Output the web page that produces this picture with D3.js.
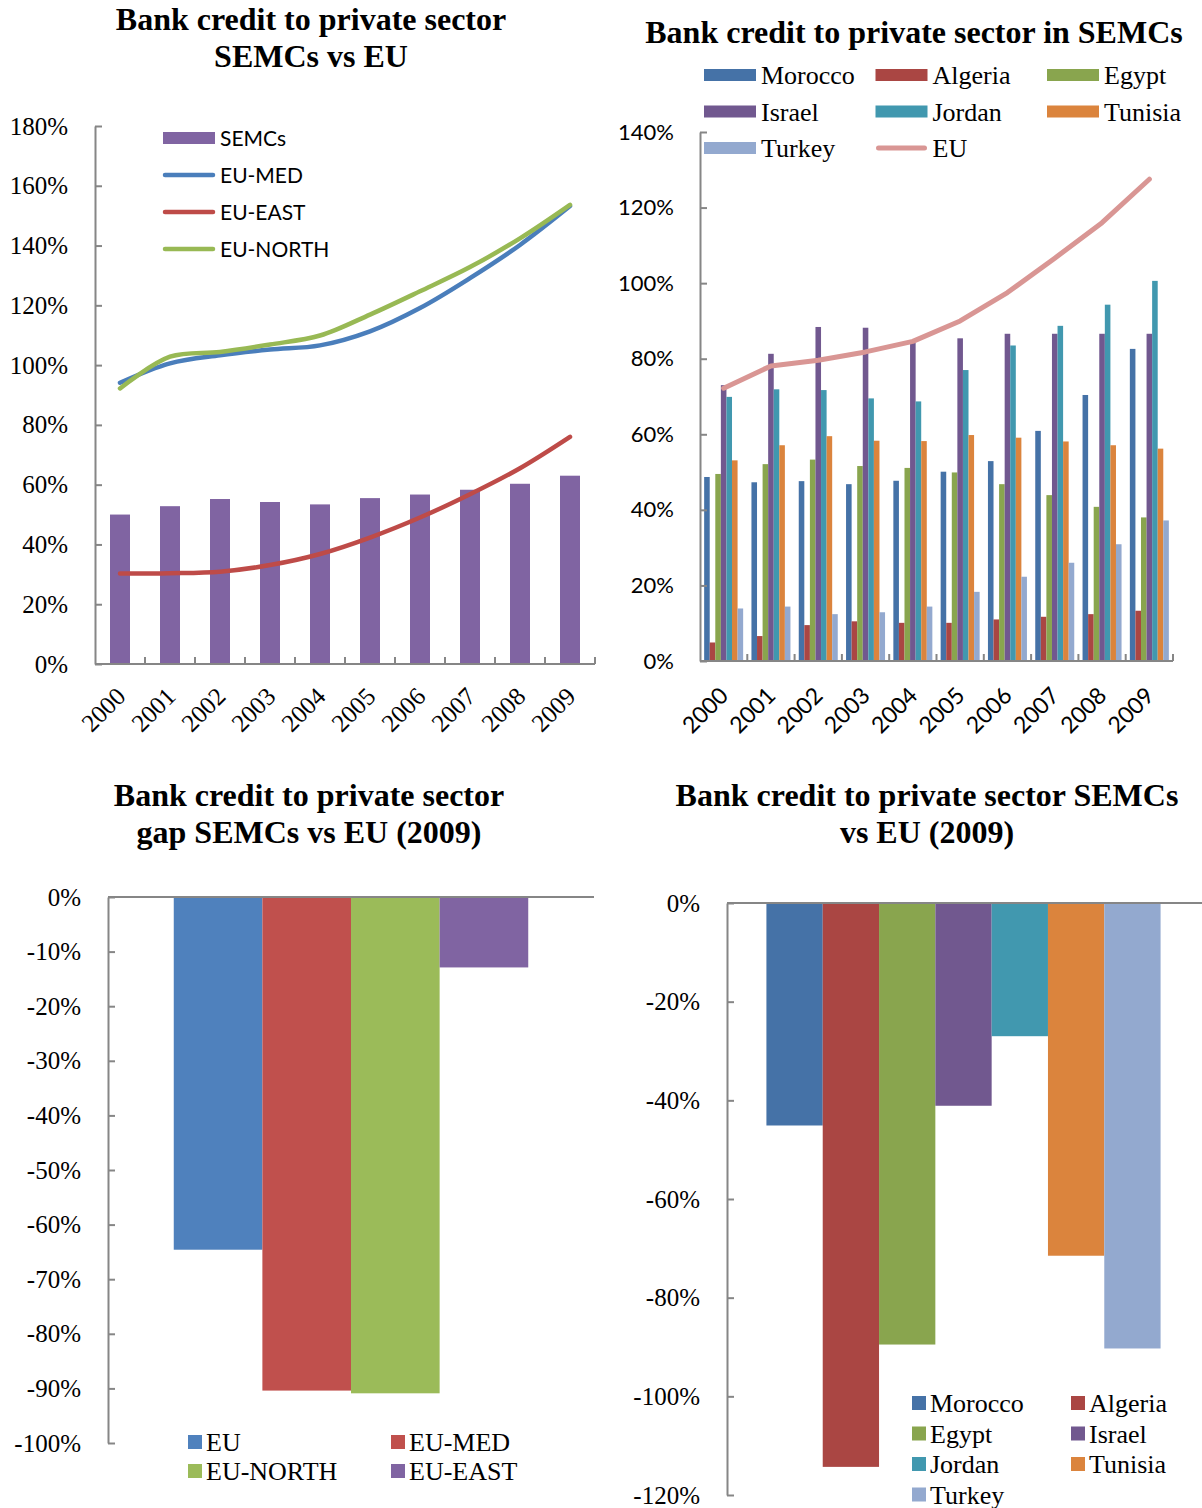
<!DOCTYPE html>
<html>
<head>
<meta charset="utf-8">
<script src="https://cdn.jsdelivr.net/npm/d3@7"></script>
<style>
  body { margin: 0; background: #fff; }
  svg { display: block; }
</style>
</head>
<body>
<svg width="1202" height="1508"></svg>
<script>
// chart 1 : SEMCs vs EU
var years = ["2000", "2001", "2002", "2003", "2004", "2005", "2006", "2007", "2008", "2009"];
var semcs   = [50.0, 52.8, 55.2, 54.2, 53.4, 55.5, 56.7, 58.3, 60.3, 63.0];
var euMed   = [94.1, 100.6, 103.3, 105.2, 106.6, 111.3, 119.1, 129.1, 140.2, 153.2];
var euEast  = [30.3, 30.4, 30.9, 33.1, 36.8, 42.3, 49.0, 56.8, 65.5, 76.0];
var euNorth = [92.2, 102.8, 104.4, 106.9, 109.9, 116.9, 124.7, 132.8, 142.4, 153.6];

// chart 2 : countries
var countries = ["Morocco", "Algeria", "Egypt", "Israel", "Jordan", "Tunisia", "Turkey"];
var morocco = [48.7, 47.3, 47.6, 46.8, 47.7, 50.1, 52.9, 60.9, 70.4, 82.6];
var algeria = [4.9, 6.6, 9.5, 10.5, 10.1, 10.1, 11.0, 11.7, 12.4, 13.3];
var egypt   = [49.5, 52.1, 53.3, 51.6, 51.1, 49.9, 46.8, 43.9, 40.8, 38.0];
var israel  = [73.0, 81.3, 88.4, 88.2, 84.2, 85.4, 86.6, 86.6, 86.6, 86.6];
var jordan  = [69.9, 71.9, 71.7, 69.5, 68.7, 77.0, 83.5, 88.7, 94.3, 100.6];
var tunisia = [53.1, 57.1, 59.5, 58.3, 58.2, 59.8, 59.1, 58.1, 57.1, 56.2];
var turkey  = [13.9, 14.4, 12.4, 12.9, 14.4, 18.3, 22.3, 26.0, 30.9, 37.2];
var eu      = [72.2, 78.1, 79.6, 81.8, 84.6, 90.0, 97.5, 106.6, 116.0, 127.5];

// chart 3 : gap 2009
var regions = ["EU", "EU-MED", "EU-NORTH", "EU-EAST"];
var regionGap = [-64.6, -90.4, -90.9, -12.9];

// chart 4 : gap 2009 by country
var countryGap = [-45.1, -114.3, -89.5, -41.1, -27.0, -71.5, -90.3];

var countryColor = ["#4572a7", "#aa4643", "#89a54e", "#71588f", "#4198af", "#db843d", "#93a9cf"];
var regionColor = ["#4f81bd", "#c0504d", "#9bbb59", "#8064a2"];
var axisColor = "#868686";
var serif = "'Liberation Serif', 'Times New Roman', serif";
var sans = "Lato, 'Open Sans', sans-serif";

var svg = d3.select("svg");
var pct = function(d) { return d + "%"; };

function title(lines, cx, y0) {
  svg.append("text")
      .attr("text-anchor", "middle")
      .attr("font-family", serif)
      .attr("font-weight", "bold")
      .attr("font-size", 32)
    .selectAll("tspan")
      .data(lines)
    .enter().append("tspan")
      .attr("x", cx)
      .attr("y", function(d, i) { return y0 + i * 36.5; })
      .text(function(d) { return d; });
}

function styleAxis(g, font, size) {
  g.attr("font-family", null).attr("font-size", null);
  g.select(".domain").attr("stroke", axisColor).attr("stroke-width", 2);
  g.selectAll(".tick line").attr("stroke", axisColor).attr("stroke-width", 2);
  g.selectAll(".tick text")
      .attr("font-family", font)
      .attr("font-size", size)
      .attr("fill", "#000");
}

// category axis with ticks between categories, labels at 45 degrees
function catAxis(x, y0, font, size, dx, dy) {
  var n = x.domain().length;
  var b = d3.scaleLinear().domain([0, n]).range(x.range());
  var g = svg.append("g");
  g.append("line")
      .attr("x1", b(0)).attr("x2", b(n))
      .attr("y1", y0).attr("y2", y0)
      .attr("stroke", axisColor).attr("stroke-width", 2);
  g.selectAll(".bt")
      .data(d3.range(1, n + 1))
    .enter().append("line")
      .attr("x1", function(d) { return b(d); })
      .attr("x2", function(d) { return b(d); })
      .attr("y1", y0).attr("y2", y0 - 7)
      .attr("stroke", axisColor).attr("stroke-width", 2);
  g.selectAll("text")
      .data(x.domain())
    .enter().append("text")
      .attr("text-anchor", "end")
      .attr("font-family", font)
      .attr("font-size", size)
      .attr("transform", function(d) {
        var cx = b(x.domain().indexOf(d) + 0.5);
        return "translate(" + (cx + dx) + "," + (y0 + dy) + ") rotate(-45)";
      })
      .text(function(d) { return d; });
}

// ---------- chart 1 ----------
title(["Bank credit to private sector", "SEMCs vs EU"], 311, 30);

var x1 = d3.scaleBand().domain(years).range([95, 595]).paddingInner(0.6).paddingOuter(0.3);
var y1 = d3.scaleLinear().domain([0, 180]).range([664, 126]);

svg.append("g").selectAll("rect")
    .data(semcs)
  .enter().append("rect")
    .attr("x", function(d, i) { return x1(years[i]); })
    .attr("y", function(d) { return y1(d); })
    .attr("width", x1.bandwidth())
    .attr("height", function(d) { return y1(0) - y1(d); })
    .attr("fill", "#8064a2");

var line1 = d3.line()
    .x(function(d, i) { return x1(years[i]) + x1.bandwidth() / 2; })
    .y(function(d) { return y1(d); })
    .curve(d3.curveCatmullRom.alpha(0.5));

var lines1 = [
  {name: "EU-MED", values: euMed, color: "#4a7ebb"},
  {name: "EU-EAST", values: euEast, color: "#be4b48"},
  {name: "EU-NORTH", values: euNorth, color: "#98b954"}
];
svg.append("g").selectAll("path")
    .data(lines1)
  .enter().append("path")
    .attr("d", function(d) { return line1(d.values); })
    .attr("fill", "none")
    .attr("stroke", function(d) { return d.color; })
    .attr("stroke-width", 4.5)
    .attr("stroke-linecap", "round")
    .attr("stroke-linejoin", "round");

var ax1 = svg.append("g")
    .attr("transform", "translate(95,0)")
    .call(d3.axisLeft(y1).tickValues(d3.range(0, 181, 20)).tickFormat(pct)
      .tickSizeInner(-7).tickSizeOuter(0).tickPadding(27));
styleAxis(ax1, serif, 25);
catAxis(x1, 664, serif, 25, 7, 34);

var leg1 = svg.append("g").attr("font-family", sans).attr("font-size", 21);
var leg1Items = [{name: "SEMCs", color: "#8064a2", bar: true}].concat(lines1);
leg1Items.forEach(function(d, i) {
  var cy = 138 + i * 37;
  if (d.bar) {
    leg1.append("rect").attr("x", 163).attr("y", cy - 6).attr("width", 52).attr("height", 12).attr("fill", d.color);
  } else {
    leg1.append("line").attr("x1", 165).attr("x2", 213).attr("y1", cy).attr("y2", cy)
        .attr("stroke", d.color).attr("stroke-width", 4.5).attr("stroke-linecap", "round");
  }
  leg1.append("text").attr("x", 220).attr("y", cy + 8).text(d.name);
});

// ---------- chart 2 ----------
title(["Bank credit to private sector in SEMCs"], 914, 43);

var x2 = d3.scaleBand().domain(years).range([700, 1173]);
var xi = d3.scaleBand().domain(countries).range([0, x2.bandwidth()]).paddingOuter(0.745);
var y2 = d3.scaleLinear().domain([0, 140]).range([661, 132]);
var countrySeries = [morocco, algeria, egypt, israel, jordan, tunisia, turkey];

svg.append("g").selectAll("g")
    .data(countrySeries)
  .enter().append("g")
    .attr("fill", function(d, k) { return countryColor[k]; })
    .each(function(series, k) {
      d3.select(this).selectAll("rect")
          .data(series)
        .enter().append("rect")
          .attr("x", function(d, i) { return x2(years[i]) + xi(countries[k]); })
          .attr("y", function(d) { return y2(d); })
          .attr("width", xi.bandwidth())
          .attr("height", function(d) { return y2(0) - y2(d); });
    });

var line2 = d3.line()
    .x(function(d, i) { return x2(years[i]) + x2.bandwidth() / 2; })
    .y(function(d) { return y2(d); });
svg.append("path")
    .attr("d", line2(eu))
    .attr("fill", "none")
    .attr("stroke", "#d99694")
    .attr("stroke-width", 5)
    .attr("stroke-linecap", "round")
    .attr("stroke-linejoin", "round");

var ax2 = svg.append("g")
    .attr("transform", "translate(700,0)")
    .call(d3.axisLeft(y2).tickValues(d3.range(0, 141, 20)).tickFormat(pct)
      .tickSizeInner(-7).tickSizeOuter(0).tickPadding(26));
styleAxis(ax2, sans, 22);
catAxis(x2, 661, sans, 23, 6, 36);

var leg2 = svg.append("g").attr("font-family", serif).attr("font-size", 26);
countries.concat(["EU"]).forEach(function(name, i) {
  var col = i % 3, row = Math.floor(i / 3);
  var lx = 704 + col * 171.5, cy = 75 + row * 36.5;
  if (name === "EU") {
    leg2.append("line").attr("x1", lx + 3).attr("x2", lx + 49).attr("y1", cy).attr("y2", cy)
        .attr("stroke", "#d99694").attr("stroke-width", 5).attr("stroke-linecap", "round");
  } else {
    leg2.append("rect").attr("x", lx).attr("y", cy - 6).attr("width", 52).attr("height", 12)
        .attr("fill", countryColor[i]);
  }
  leg2.append("text").attr("x", lx + 57).attr("y", cy + 9).text(name);
});

// ---------- chart 3 ----------
title(["Bank credit to private sector", "gap SEMCs vs EU (2009)"], 309, 806);

var x3 = d3.scaleBand().domain(regions).range([108, 594]).paddingOuter(0.742);
var y3 = d3.scaleLinear().domain([-100, 0]).range([1443, 897]);

svg.append("g").selectAll("rect")
    .data(regionGap)
  .enter().append("rect")
    .attr("x", function(d, i) { return x3(regions[i]); })
    .attr("y", y3(0))
    .attr("width", x3.bandwidth())
    .attr("height", function(d) { return y3(d) - y3(0); })
    .attr("fill", function(d, i) { return regionColor[i]; });

svg.append("line")
    .attr("x1", 108).attr("x2", 594)
    .attr("y1", y3(0)).attr("y2", y3(0))
    .attr("stroke", axisColor).attr("stroke-width", 2);
var ax3 = svg.append("g")
    .attr("transform", "translate(108,0)")
    .call(d3.axisLeft(y3).tickValues(d3.range(-100, 1, 10)).tickFormat(pct)
      .tickSizeInner(-7).tickSizeOuter(0).tickPadding(27));
styleAxis(ax3, serif, 25);

var leg3 = svg.append("g").attr("font-family", serif).attr("font-size", 26);
regions.forEach(function(name, i) {
  var lx = 188 + (i % 2) * 203, cy = 1442 + Math.floor(i / 2) * 29;
  leg3.append("rect").attr("x", lx).attr("y", cy - 7).attr("width", 14).attr("height", 14)
      .attr("fill", regionColor[i]);
  leg3.append("text").attr("x", lx + 18).attr("y", cy + 9).text(name);
});

// ---------- chart 4 ----------
title(["Bank credit to private sector SEMCs", "vs EU (2009)"], 927, 806);

var x4 = d3.scaleBand().domain(countries).range([727, 1200]).paddingOuter(0.7);
var y4 = d3.scaleLinear().domain([-120, 0]).range([1495, 903]);

svg.append("g").selectAll("rect")
    .data(countryGap)
  .enter().append("rect")
    .attr("x", function(d, i) { return x4(countries[i]); })
    .attr("y", y4(0))
    .attr("width", x4.bandwidth())
    .attr("height", function(d) { return y4(d) - y4(0); })
    .attr("fill", function(d, i) { return countryColor[i]; });

svg.append("line")
    .attr("x1", 727).attr("x2", 1202)
    .attr("y1", y4(0)).attr("y2", y4(0))
    .attr("stroke", axisColor).attr("stroke-width", 2);
var ax4 = svg.append("g")
    .attr("transform", "translate(727,0)")
    .call(d3.axisLeft(y4).tickValues(d3.range(-120, 1, 20)).tickFormat(pct)
      .tickSizeInner(-7).tickSizeOuter(0).tickPadding(27));
styleAxis(ax4, serif, 25);

var leg4 = svg.append("g").attr("font-family", serif).attr("font-size", 26);
countries.forEach(function(name, i) {
  var lx = 912 + (i % 2) * 159, cy = 1403 + Math.floor(i / 2) * 30.5;
  leg4.append("rect").attr("x", lx).attr("y", cy - 7).attr("width", 14).attr("height", 14)
      .attr("fill", countryColor[i]);
  leg4.append("text").attr("x", lx + 18).attr("y", cy + 9).text(name);
});
</script>
</body>
</html>
